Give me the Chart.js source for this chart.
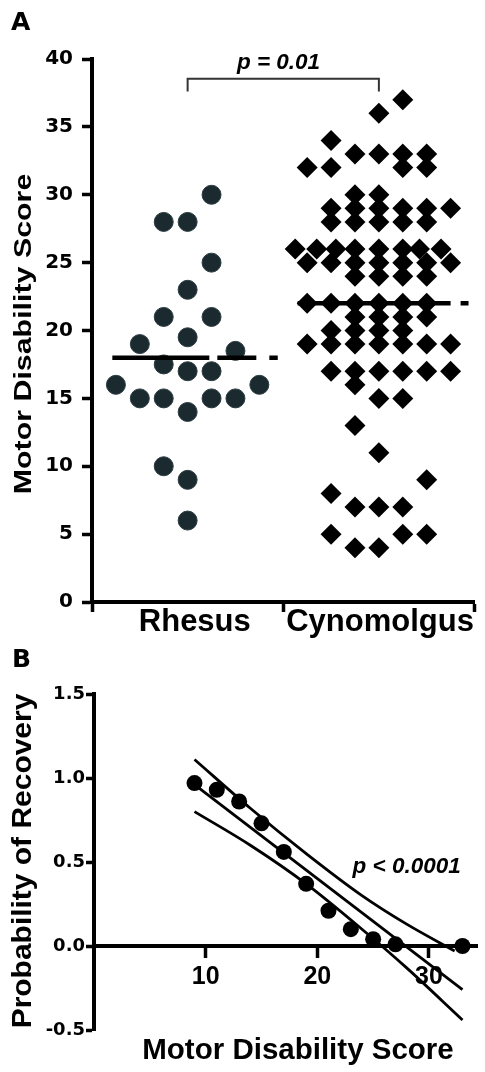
<!DOCTYPE html>
<html lang="en">
<head>
<meta charset="UTF-8">
<title>Motor disability score and recovery</title>
<script src="https://cdn.jsdelivr.net/npm/chart.js"></script>
<style>
  body { margin: 0; background: #fff; }
  .wrap { position: relative; width: 485px; height: 1072px; overflow: hidden; }
  canvas { position: absolute; left: 0; }
  #chartA { top: 0; }
  #chartB { top: 640px; }
  .panel-label { position: absolute; font: bold 25px 'DejaVu Sans', sans-serif; line-height: 25px; color: #000; }
</style>
</head>
<body>
<div class="wrap">
  <canvas id="chartA" width="485" height="640"></canvas>
  <canvas id="chartB" width="485" height="432"></canvas>
  <div class="panel-label" style="left:11px; top:9px;">A</div>
  <div class="panel-label" style="left:12px; top:646px;">B</div>
</div>
<script>
// ---------- Panel A: motor disability score per animal ----------
const groups = ['Rhesus', 'Cynomolgus'];
const groupCenters = [0, 8];            // x value of each column on the swarm axis
const groupEdges = [-4, 4, 12];         // tick marks between columns
const yTicksA = [0, 5, 10, 15, 20, 25, 30, 35, 40];

const rhesusScores = [30, 28, 28, 25, 23, 21, 21, 19.5, 19, 18.5, 17.5, 17, 17, 16, 16, 15, 15, 15, 15, 14, 10, 9, 6];
const rhesusSlots  = [1, -1, 0, 1, 0, -1, 1, 0, -2, 2, -1, 0, 1, -3, 3, -2, -1, 1, 2, 0, -1, 0, 0];

const cynoScores = [
  37, 36, 34,
  33, 33, 33, 33,
  32, 32, 32, 32,
  30, 30,
  29, 29, 29, 29, 29, 29,
  28, 28, 28, 28, 28,
  26, 26, 26, 26, 26, 26, 26, 26,
  25, 25, 25, 25, 25, 25, 25,
  24, 24, 24, 24,
  22, 22, 22, 22, 22, 22,
  21, 21, 21, 21,
  20, 20, 20, 20,
  19, 19, 19, 19, 19, 19, 19,
  17, 17, 17, 17, 17, 17,
  16, 15, 15, 13, 11, 9, 8,
  7, 7, 7,
  5, 5, 5,
  4, 4
];
const cynoSlots = [
  1, 0, -2,
  -1, 0, 1, 2,
  -3, -2, 1, 2,
  -1, 0,
  -2, -1, 0, 1, 2, 3,
  -2, -1, 0, 1, 2,
  -3.5, -2.6, -1.8, -1, 0, 1, 1.7, 2.6,
  -3, -2, -1, 0, 1, 2, 3,
  -1, 0, 1, 2,
  -3, -2, -1, 0, 1, 2,
  -1, 0, 1, 2,
  -2, -1, 0, 1,
  -3, -2, -1, 0, 1, 2, 3,
  -2, -1, 0, 1, 2, 3,
  -1, 0, 1, -1, 0, 2, -2,
  -1, 0, 1,
  -2, 1, 2,
  -1, 0
];

const rhesusMean = 18;
const cynoMean = 22;
const bracketTop = 38.55;
const bracketFoot = 37.6;
const pLabelA = 'p = 0.01';

// ---------- Panel B: probability of recovery vs score ----------
const recoveryScore = [9, 11, 13, 15, 17, 19, 21, 23, 25, 27, 33];
const recoveryProb  = [0.97, 0.93, 0.86, 0.73, 0.56, 0.37, 0.21, 0.10, 0.04, 0.01, 0.00];
const fitScore = [9, 33];
const fitProb  = [0.96, -0.26];
const upperScore = [9, 14, 19, 24, 28, 32.3];
const upperProb  = [1.11, 0.82, 0.55, 0.30, 0.13, -0.03];
const lowerScore = [9, 14, 19, 24, 28, 33];
const lowerProb  = [0.80, 0.60, 0.37, 0.10, -0.13, -0.44];
const xTicksB = [10, 20, 30];
const yTicksB = [-0.5, 0, 0.5, 1.0, 1.5];
const pLabelB = 'p < 0.0001';

// ---------- helpers ----------
function swarm(scores, slots, center) {
  return scores.map((s, i) => ({ x: center + slots[i], y: s }));
}
function pairs(xs, ys) {
  return xs.map((v, i) => ({ x: v, y: ys[i] }));
}

// draws extra canvas text; items anchored either in pixels or in data units
function textLayer(items) {
  return {
    id: 'textLayer',
    afterDatasetsDraw(chart) {
      const ctx = chart.ctx;
      items.forEach(t => {
        let px = t.x, py = t.y;
        if (t.at) {
          px = chart.scales.x.getPixelForValue(t.at[0]);
          py = chart.scales.y.getPixelForValue(t.at[1]);
        }
        ctx.save();
        ctx.font = t.font;
        ctx.fillStyle = '#000';
        ctx.textAlign = 'center';
        ctx.textBaseline = 'middle';
        ctx.translate(px, py);
        if (t.rotate) ctx.rotate(-Math.PI / 2);
        ctx.scale(t.stretch || 1, 1);
        ctx.fillText(t.text, 0, 0);
        ctx.restore();
      });
    }
  };
}

Chart.defaults.animation = false;
Chart.defaults.color = '#000';

// category labels sit a little right of the column centre in the original
const labelShiftA = [0.3, 0.05];
const labelTicksA = groupCenters.map((c, i) => c + labelShiftA[i]);

// ---------- chart A ----------
new Chart(document.getElementById('chartA'), {
  type: 'scatter',
  data: {
    datasets: [
      {
        label: 'Rhesus mean',
        data: [{ x: groupCenters[0] - 3.15, y: rhesusMean }, { x: groupCenters[0] + 3.77, y: rhesusMean }],
        showLine: true, pointRadius: 0, borderColor: '#000', borderWidth: 4.5,
        borderDash: [97, 8, 39, 13, 12, 80], borderCapStyle: 'butt', order: 0
      },
      {
        label: 'Cynomolgus mean',
        data: [{ x: groupCenters[1] - 3.4, y: cynoMean }, { x: groupCenters[1] + 3.75, y: cynoMean }],
        showLine: true, pointRadius: 0, borderColor: '#000', borderWidth: 4.5,
        borderDash: [153, 10, 12, 80], borderCapStyle: 'butt', order: 0
      },
      {
        label: 'bracket',
        data: [
          { x: groupCenters[0], y: bracketFoot }, { x: groupCenters[0], y: bracketTop },
          { x: groupCenters[1], y: bracketTop }, { x: groupCenters[1], y: bracketFoot }
        ],
        showLine: true, pointRadius: 0, borderColor: '#333', borderWidth: 2, order: 0
      },
      {
        label: groups[0],
        data: swarm(rhesusScores, rhesusSlots, groupCenters[0]),
        pointStyle: 'circle', pointRadius: 9.5,
        backgroundColor: '#1b2a2f', borderColor: '#2c3c42', borderWidth: 1, order: 1
      },
      {
        label: groups[1],
        data: swarm(cynoScores, cynoSlots, groupCenters[1]),
        pointStyle: 'rectRot', pointRadius: 10.5,
        backgroundColor: '#000', borderColor: '#000', borderWidth: 0, order: 1
      }
    ]
  },
  options: {
    responsive: false,
    layout: { padding: { top: 59, right: 2, bottom: 0, left: 0 } },
    plugins: { legend: { display: false }, tooltip: { enabled: false } },
    scales: {
      x: {
        type: 'linear', min: -4, max: 12,
        afterBuildTicks: s => { s.ticks = groupEdges.concat(labelTicksA).sort((a, b) => a - b).map(v => ({ value: v })); },
        afterFit: s => { s.height = 38; },
        border: { display: true, color: '#000', width: 4 },
        grid: {
          drawOnChartArea: false, drawTicks: true, tickLength: 10, tickWidth: 3.5,
          tickColor: c => (c.tick && labelTicksA.includes(c.tick.value)) ? 'rgba(0,0,0,0)' : '#000'
        },
        ticks: {
          autoSkip: false, maxRotation: 0, padding: -5, color: '#000',
          font: { family: 'Liberation Sans', size: 31, weight: 'bold', lineHeight: 1 },
          callback: v => { const i = labelTicksA.indexOf(v); return i >= 0 ? groups[i] : ''; }
        }
      },
      y: {
        min: 0, max: 40,
        afterBuildTicks: s => { s.ticks = yTicksA.map(v => ({ value: v })); },
        afterFit: s => { s.width = 92; },
        border: { display: true, color: '#000', width: 4 },
        grid: { drawOnChartArea: false, drawTicks: true, tickLength: 10, tickWidth: 3.5, tickColor: '#000' },
        ticks: { padding: 9, color: '#000', font: { family: 'DejaVu Sans', size: 20, weight: 'bold' } }
      }
    }
  },
  plugins: [textLayer([
    { text: 'Motor Disability Score', x: 25, y: 334, rotate: true, stretch: 1.32, font: 'bold 23px "Liberation Sans"' },
    { text: pLabelA, at: [3.8, 39.7], font: 'italic bold 22.5px "Liberation Sans"' }
  ])]
});

// ---------- chart B ----------
new Chart(document.getElementById('chartB'), {
  type: 'scatter',
  data: {
    datasets: [
      {
        label: 'Animals',
        data: pairs(recoveryScore, recoveryProb),
        pointRadius: 8, backgroundColor: '#000', borderColor: '#000', borderWidth: 0, order: 0
      },
      {
        label: 'Fit',
        data: pairs(fitScore, fitProb),
        showLine: true, pointRadius: 0, borderColor: '#000', borderWidth: 2.8, order: 1
      },
      {
        label: 'Upper band',
        data: pairs(upperScore, upperProb),
        showLine: true, pointRadius: 0, borderColor: '#000', borderWidth: 2.8,
        cubicInterpolationMode: 'monotone', order: 1
      },
      {
        label: 'Lower band',
        data: pairs(lowerScore, lowerProb),
        showLine: true, pointRadius: 0, borderColor: '#000', borderWidth: 2.8,
        cubicInterpolationMode: 'monotone', order: 1
      }
    ]
  },
  options: {
    responsive: false,
    layout: { padding: { top: 54, right: 0, bottom: 42, left: 0 } },
    plugins: { legend: { display: false }, tooltip: { enabled: false } },
    scales: {
      x: {
        type: 'linear', min: 0, max: 34.3, position: { y: 0 },
        afterBuildTicks: s => { s.ticks = xTicksB.map(v => ({ value: v })); },
        border: { display: true, color: '#000', width: 4 },
        grid: { drawOnChartArea: false, drawTicks: true, tickLength: 10, tickWidth: 3.5, tickColor: '#000' },
        ticks: {
          autoSkip: false, maxRotation: 0, padding: 6, color: '#000',
          font: { family: "'Liberation Sans Narrow', 'Liberation Sans'", size: 25, weight: 'bold' }
        }
      },
      y: {
        min: -0.5, max: 1.5,
        afterBuildTicks: s => { s.ticks = yTicksB.map(v => ({ value: v })); },
        afterFit: s => { s.width = 94; },
        border: { display: true, color: '#000', width: 4 },
        grid: { drawOnChartArea: false, drawTicks: true, tickLength: 8, tickWidth: 3.5, tickColor: '#000' },
        ticks: {
          padding: 1, color: '#000',
          font: { family: 'DejaVu Sans', size: 18, weight: 'bold' },
          callback: v => v.toFixed(1)
        }
      }
    }
  },
  plugins: [textLayer([
    { text: 'Probability of Recovery', x: 23.5, y: 221, rotate: true, stretch: 1.07, font: 'bold 28px "Liberation Sans"' },
    { text: 'Motor Disability Score', x: 298, y: 411, font: 'bold 29.5px "Liberation Sans"' },
    { text: pLabelB, at: [28, 0.47], font: 'italic bold 22.5px "Liberation Sans"' }
  ])]
});
</script>
</body>
</html>
